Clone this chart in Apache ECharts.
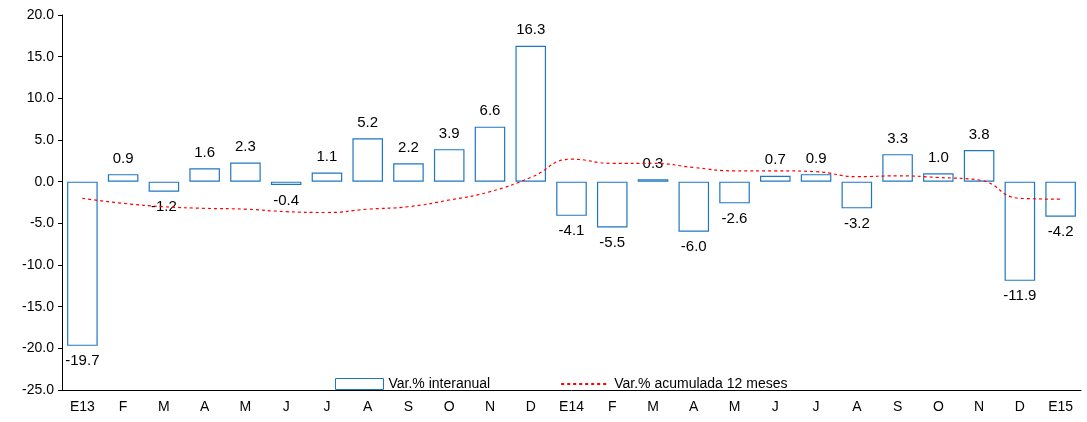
<!DOCTYPE html>
<html>
<head>
<meta charset="utf-8">
<script src="https://cdn.jsdelivr.net/npm/echarts@6/dist/echarts.min.js"></script>
<style>body{margin:0}#chart{width:1087px;height:422px}</style>
</head>
<body>
<div id="chart"></div>
<script>
// categorias y datos
var categorias = ['E13','F','M','A','M','J','J','A','S','O','N','D','E14','F','M','A','M','J','J','A','S','O','N','D','E15'];
var varInteranual = [-19.7,0.9,-1.2,1.6,2.3,-0.4,1.1,5.2,2.2,3.9,6.6,16.3,-4.1,-5.5,0.3,-6.0,-2.6,0.7,0.9,-3.2,3.3,1.0,3.8,-11.9,-4.2];
var varAcumulada = [-2.0,-2.6,-3.0,-3.2,-3.3,-3.6,-3.7,-3.3,-3.0,-2.2,-1.2,0.5,2.7,2.2,2.2,1.7,1.3,1.3,1.2,0.6,0.7,0.5,0.2,-2.0,-2.1];

var chart = echarts.init(document.getElementById('chart'));
var font = 'Liberation Sans, Arial, sans-serif';

chart.setOption({
    animation: false,
    grid: { left: 62, right: 6, top: 15, bottom: 32 },
    legend: {
        bottom: 26, left: 330, itemGap: 70,
        textStyle: { fontFamily: font, fontSize: 14, color: '#000' },
        data: [
            { name: 'Var.% interanual', icon: 'rect', itemStyle: { color: '#fff', borderColor: '#1f77c4', borderWidth: 1 } },
            { name: 'Var.% acumulada 12 meses', itemStyle: { opacity: 0 } }
        ],
        itemWidth: 48, itemHeight: 11
    },
    xAxis: {
        type: 'category', data: categorias,
        axisLine: { onZero: false, lineStyle: { color: '#000' } },
        axisTick: { show: false },
        axisLabel: { color: '#000', fontFamily: font, fontSize: 14, margin: 10 }
    },
    yAxis: {
        type: 'value', min: -25, max: 20, interval: 5,
        splitLine: { show: false },
        axisLine: { show: true, lineStyle: { color: '#000' } },
        axisTick: { show: true, length: 4 },
        axisLabel: { color: '#000', fontFamily: font, fontSize: 14, formatter: v => v.toFixed(1) }
    },
    series: [
        {
            name: 'Var.% interanual', type: 'bar', barWidth: '75%',
            data: varInteranual.map(v => ({
                value: v,
                label: { position: v >= 0 ? 'top' : 'bottom' }
            })),
            itemStyle: { color: '#fff', borderColor: '#1f77c4', borderWidth: 1.2 },
            label: {
                show: true, distance: 8, color: '#000', fontFamily: font, fontSize: 15,
                formatter: p => p.value.toFixed(1)
            }
        },
        {
            name: 'Var.% acumulada 12 meses', type: 'line', smooth: true, symbol: 'none',
            data: varAcumulada,
            lineStyle: { color: '#ff0000', type: [3, 3], width: 1.2 },
            itemStyle: { color: '#ff0000' }
        }
    ]
});
</script>
</body>
</html>
